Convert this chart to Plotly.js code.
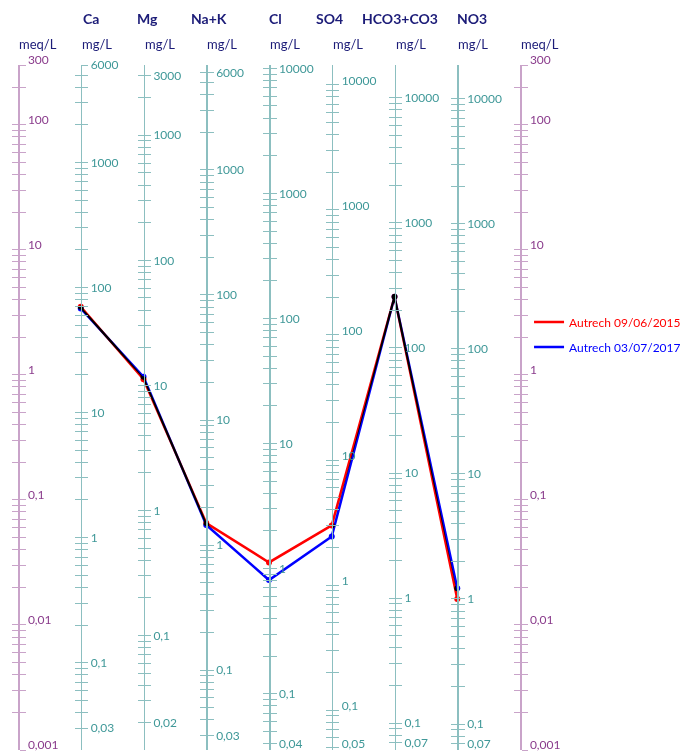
<!DOCTYPE html>
<html><head><meta charset="utf-8">
<script src="https://cdn.plot.ly/plotly-3.0.1.min.js"></script>
<style>
html,body{margin:0;padding:0;background:#fff;}
#chart{width:689px;height:753px;}
.js-plotly-plot .scatterlayer .trace{mix-blend-mode:multiply;}
</style></head><body><div id="chart"></div>
<script>
// ---- data ----
const ions = ['Ca','Mg','Na+K','Cl','SO4','HCO3+CO3','NO3'];
const eqWeights = [20.04, 12.15, 23.0, 35.45, 48.03, 61.02, 62.0]; // mg per meq
const series1Name = 'Autrech 09/06/2015';
const series1MgL = [70, 11.2, 1.5, 1.12, 3.0, 257, 1.0];
const series2Name = 'Autrech 03/07/2017';
const series2MgL = [68, 11.7, 1.45, 0.81, 2.45, 257, 1.22];
const meqRange = [0.001, 300];
const meqTickVals = [300, 100, 10, 1, 0.1, 0.01, 0.001];
const meqTickText = ['300', '100', '10', '1', '0,1', '0,01', '0,001'];
const mgTickVals = [
  [6000, 1000, 100, 10, 1, 0.1, 0.03],
  [3000, 1000, 100, 10, 1, 0.1, 0.02],
  [6000, 1000, 100, 10, 1, 0.1, 0.03],
  [10000, 1000, 100, 10, 1, 0.1, 0.04],
  [10000, 1000, 100, 10, 1, 0.1, 0.05],
  [10000, 1000, 100, 10, 1, 0.1, 0.07],
  [10000, 1000, 100, 10, 1, 0.1, 0.07]
];
const mgTickText = [
  ['6000', '1000', '100', '10', '1', '0,1', '0,03'],
  ['3000', '1000', '100', '10', '1', '0,1', '0,02'],
  ['6000', '1000', '100', '10', '1', '0,1', '0,03'],
  ['10000', '1000', '100', '10', '1', '0,1', '0,04'],
  ['10000', '1000', '100', '10', '1', '0,1', '0,05'],
  ['10000', '1000', '100', '10', '1', '0,1', '0,07'],
  ['10000', '1000', '100', '10', '1', '0,1', '0,07']
];

// ---- styles ----
const FONT = 'Lato, "Liberation Sans", sans-serif';
const NAVY = '#1c1c78';
const PURPLE_LINE = '#c9a3c9';
const PURPLE_TEXT = '#8a3c8c';
const TEAL_LINE = '#8cbfc0';
const TEAL_TEXT = '#3f9898';
const RED = '#ff0000';
const BLUE = '#0000ff';
const headerShift = [10, 4, 3, 6, -2, 5, 15];
const labelShift = [0, 0, 0, 0, -4, 0, 0]; // keep bottom labels inside the page
const meqLabelShift = -5;

function logTicks(lo, hi, labVals, labText) {
  const vals = [], text = [];
  for (let k = -4; k <= 5; k++) {
    for (let n = 1; n <= 9; n++) {
      const v = n * Math.pow(10, k);
      if (v >= lo * 0.9999 && v <= hi * 1.0001) {
        vals.push(v);
        let t = '';
        labVals.forEach((lv, i) => { if (Math.abs(lv - v) / v < 1e-6) t = labText[i]; });
        text.push(t);
      }
    }
  }
  return {vals, text};
}

const layout = {
  width: 689, height: 753,
  margin: {l: 18, r: 169, t: 65, b: 3, autoexpand: false},
  paper_bgcolor: '#fff', plot_bgcolor: '#fff',
  font: {family: FONT},
  showlegend: true,
  legend: {x: 1.018, y: 0.646, xanchor: 'left', yanchor: 'top', font: {size: 12, family: FONT},
           bgcolor: 'rgba(0,0,0,0)', tracegroupgap: 6, itemwidth: 30},
  xaxis: {type: 'category', categoryarray: ions, range: [-1, 7], visible: false, fixedrange: true},
  annotations: []
};

const nCols = ions.length + 1;
const axisTraces = [];
let axisCount = 0;
function addAxisPair(lo, hi, labVals, labText, position, lineColor, textColor, shift) {
  const tk = logTicks(lo, hi, labVals, labText);
  const base = {
    type: 'log', range: [Math.log10(lo * 0.99995), Math.log10(hi * 1.00005)],
    anchor: 'free', position: position, side: 'right',
    showline: true, linecolor: lineColor, linewidth: 1.5,
    tickmode: 'array', tickvals: tk.vals, ticktext: tk.text,
    ticklen: 6, tickwidth: 1, tickcolor: lineColor,
    tickfont: {size: 12, color: textColor, family: FONT},
    ticklabeloverflow: 'allow', ticklabelshift: shift,
    showgrid: false, zeroline: false, automargin: false, fixedrange: true
  };
  for (const t of ['outside', 'inside']) {
    axisCount++;
    const name = axisCount === 1 ? 'yaxis' : 'yaxis' + axisCount;
    const ax = Object.assign({}, base, {ticks: t});
    if (t === 'inside') ax.showticklabels = false;
    if (axisCount > 1) ax.overlaying = 'y';
    layout[name] = ax;
    if (axisCount > 1) {
      // empty trace so that Plotly builds and draws this axis
      axisTraces.push({x: [null], y: [null], yaxis: 'y' + axisCount, mode: 'markers',
                       showlegend: false, hoverinfo: 'skip'});
    }
  }
}

// left meq axis (main)
addAxisPair(meqRange[0], meqRange[1], meqTickVals, meqTickText, 0, PURPLE_LINE, PURPLE_TEXT, meqLabelShift);
// ion mg/L axes
ions.forEach((ion, i) => {
  addAxisPair(meqRange[0] * eqWeights[i], meqRange[1] * eqWeights[i], mgTickVals[i], mgTickText[i],
              (i + 1) / nCols, TEAL_LINE, TEAL_TEXT, labelShift[i]);
});
// right meq axis
addAxisPair(meqRange[0], meqRange[1], meqTickVals, meqTickText, 1, PURPLE_LINE, PURPLE_TEXT, meqLabelShift);

// headers and units
const plotH = 685;
function py(px) { return (65 + plotH - px) / plotH; }
ions.forEach((ion, i) => {
  layout.annotations.push({text: '<b>' + ion + '</b>', xref: 'x', x: i, yref: 'paper', y: py(18),
    xanchor: 'center', yanchor: 'middle', showarrow: false, xshift: headerShift[i],
    font: {size: 14, color: NAVY, family: FONT}});
  layout.annotations.push({text: 'mg/L', xref: 'x', x: i, yref: 'paper', y: py(44),
    xanchor: 'left', yanchor: 'middle', showarrow: false, xshift: -1,
    font: {size: 13, color: NAVY, family: FONT}});
});
[-1, ions.length].forEach(x => {
  layout.annotations.push({text: 'meq/L', xref: 'x', x: x, yref: 'paper', y: py(44),
    xanchor: 'left', yanchor: 'middle', showarrow: false, xshift: -1,
    font: {size: 13, color: NAVY, family: FONT}});
});

function toMeq(arr) { return arr.map((v, i) => v / eqWeights[i]); }

const traces = axisTraces.concat([
  {x: ions, y: toMeq(series1MgL), mode: 'lines+markers', name: series1Name, showlegend: false,
   line: {color: RED, width: 2.5}, marker: {color: RED, size: 6}, cliponaxis: false, hoverinfo: 'skip'},
  {x: ions, y: toMeq(series2MgL), mode: 'lines+markers', name: series2Name, showlegend: false,
   line: {color: BLUE, width: 2.5}, marker: {color: BLUE, size: 6}, cliponaxis: false, hoverinfo: 'skip'},
  {x: [null], y: [null], mode: 'lines', legendgroup: 'a', name: '<span style="color:' + RED + '">' + series1Name + '</span>',
   line: {color: RED, width: 2.5}, hoverinfo: 'skip'},
  {x: [null], y: [null], mode: 'lines', legendgroup: 'b', name: '<span style="color:' + BLUE + '">' + series2Name + '</span>',
   line: {color: BLUE, width: 2.5}, hoverinfo: 'skip'}
]);

Plotly.newPlot('chart', traces, layout, {displayModeBar: false, staticPlot: true});
</script></body></html>
